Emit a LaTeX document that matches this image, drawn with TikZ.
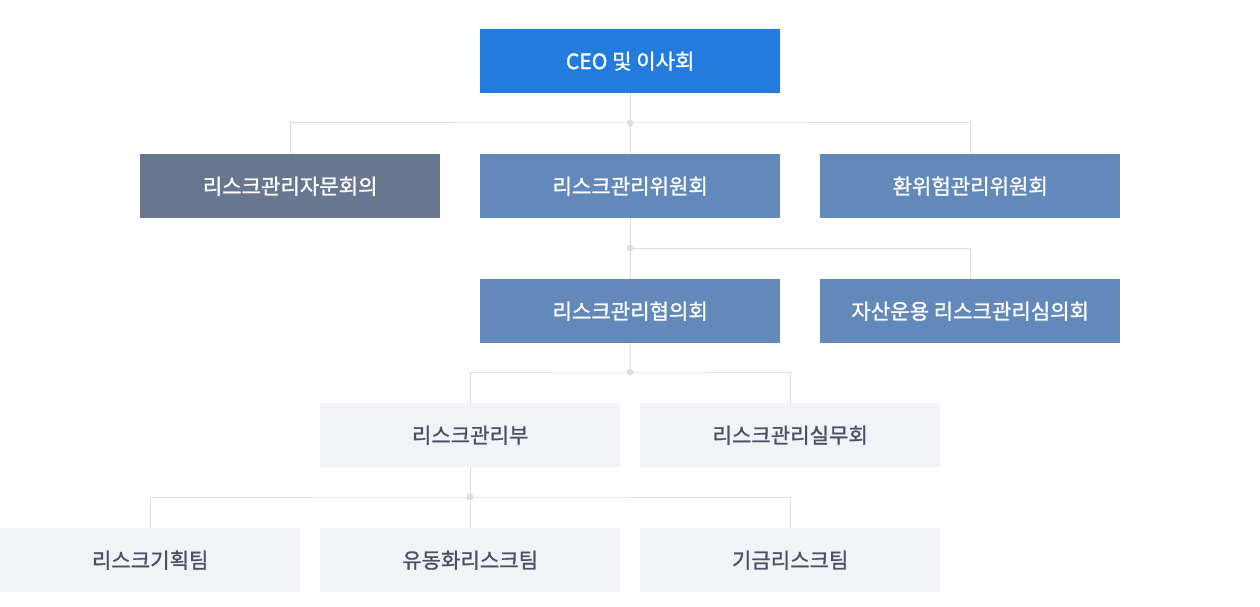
\documentclass[tikz,border=0pt]{standalone}
\usepackage{fontspec}
\setmainfont{Noto Sans CJK KR}[FakeBold=1.2]
\definecolor{ceo}{RGB}{35,124,221}
\definecolor{gray1}{RGB}{105,118,144}
\definecolor{blue1}{RGB}{99,137,186}
\definecolor{light}{RGB}{242,243,247}
\definecolor{txt}{RGB}{74,80,104}
\definecolor{ln}{RGB}{221,221,221}
\begin{document}
\begin{tikzpicture}[x=1pt,y=-1pt,
  box/.style={minimum width=300pt,minimum height=64pt,inner sep=0pt,anchor=north west,font=\fontsize{21.1}{24}\selectfont},
  dark/.style={box,fill=#1,text=white},
  pale/.style={box,fill=light,text=txt},
  conn/.style={draw=ln,line width=1pt},
  dot/.style={circle,fill=ln,inner sep=0pt,minimum size=7pt}]
\useasboundingbox (0,0) rectangle (1260,607);
\node[dark=ceo] (ceo) at (480,29) {CEO 및 이사회};
\node[dark=gray1] (adv) at (140,154) {리스크관리자문회의};
\node[dark=blue1] (rmc) at (480,154) {리스크관리위원회};
\node[dark=blue1] (fx) at (820,154) {환위험관리위원회};
\node[dark=blue1] (cons) at (480,279) {리스크관리협의회};
\node[dark=blue1] (asset) at (820,279) {자산운용 리스크관리심의회};
\node[pale] (dept) at (320,403) {리스크관리부};
\node[pale] (work) at (640,403) {리스크관리실무회};
\node[pale] (plan) at (0,528) {리스크기획팀};
\node[pale] (liq) at (320,528) {유동화리스크팀};
\node[pale] (fund) at (640,528) {기금리스크팀};
% junctions
\coordinate (j1) at (630,123);
\coordinate (j2) at (630,248);
\coordinate (j3) at (630,372);
\coordinate (j4) at (470,497);
\draw[conn] (ceo.south) -- (rmc.north);
\draw[conn] (adv.north) |- (j1) -| (fx.north);
\draw[conn] (rmc.south) -- (cons.north);
\draw[conn] (j2) -| (asset.north);
\draw[conn] (cons.south) -- (j3);
\draw[conn] (dept.north) |- (j3) -| (work.north);
\draw[conn] (dept.south) -- (liq.north);
\draw[conn] (plan.north) |- (j4) -| (fund.north);
\foreach \j in {j1,j2,j3,j4} \node[dot] at (\j) {};
\end{tikzpicture}
\end{document}
